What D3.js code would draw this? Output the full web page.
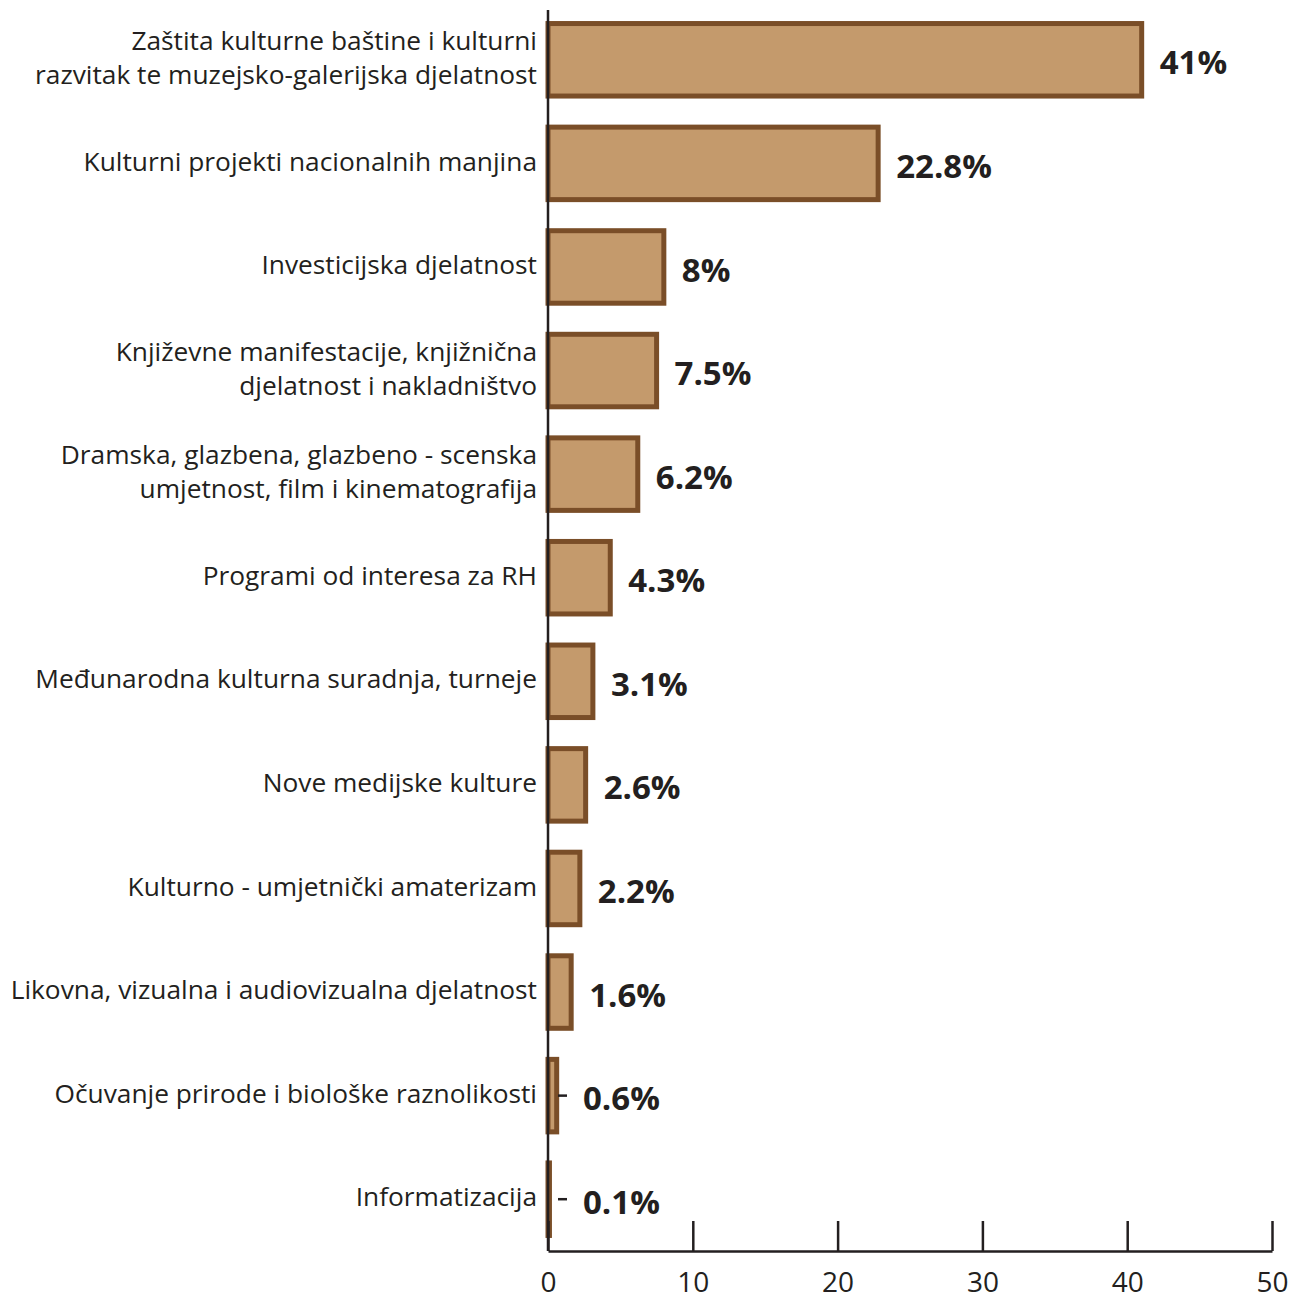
<!DOCTYPE html>
<html><head><meta charset="utf-8">
<script src="https://cdn.jsdelivr.net/npm/d3@7/dist/d3.min.js"></script>
<style>body{margin:0;background:#fff}</style>
</head><body>
<svg id="c" width="1298" height="1300"></svg>
<script>
const categories = [
  ["Zaštita kulturne baštine i kulturni", "razvitak te muzejsko-galerijska djelatnost"],
  ["Kulturni projekti nacionalnih manjina"],
  ["Investicijska djelatnost"],
  ["Književne manifestacije, knjižnična", "djelatnost i nakladništvo"],
  ["Dramska, glazbena, glazbeno - scenska", "umjetnost, film i kinematografija"],
  ["Programi od interesa za RH"],
  ["Međunarodna kulturna suradnja, turneje"],
  ["Nove medijske kulture"],
  ["Kulturno - umjetnički amaterizam"],
  ["Likovna, vizualna i audiovizualna djelatnost"],
  ["Očuvanje prirode i biološke raznolikosti"],
  ["Informatizacija"]
];
const values = [41, 22.8, 8, 7.5, 6.2, 4.3, 3.1, 2.6, 2.2, 1.6, 0.6, 0.1];
const valueLabels = ["41%", "22.8%", "8%", "7.5%", "6.2%", "4.3%", "3.1%", "2.6%", "2.2%", "1.6%", "0.6%", "0.1%"];
const xTicks = [0, 10, 20, 30, 40, 50];

const svg = d3.select("#c");
const ink = "#231f20", barStroke = "#7a4e28", barFill = "#c49a6c";
const x = d3.scaleLinear().domain([0, 50]).range([548, 1272]);
const y = d3.scaleBand().domain(d3.range(values.length)).range([8, 1251]).paddingInner(0.3).paddingOuter(0.15);
const font = "'Open Sans', sans-serif";

// bars
svg.append("g").selectAll("rect").data(values).join("rect")
  .attr("x", x(0))
  .attr("y", (d, i) => y(i))
  .attr("width", d => Math.max(0.5, x(d) - x(0)))
  .attr("height", y.bandwidth())
  .attr("fill", d => d < 0.3 ? barStroke : barFill)
  .attr("stroke", barStroke)
  .attr("stroke-width", 5);

// y axis line
svg.append("line").attr("x1", x(0)).attr("x2", x(0)).attr("y1", 10).attr("y2", 1251)
  .attr("stroke", ink).attr("stroke-width", 2.5);

// x axis
const ax = svg.append("g").attr("transform", "translate(0,1251)")
  .call(d3.axisBottom(x).tickValues(xTicks).tickSize(-30).tickSizeOuter(0).tickPadding(21));
ax.select(".domain").attr("stroke", ink).attr("stroke-width", 2.5);
ax.selectAll(".tick line").attr("stroke", ink).attr("stroke-width", 2.5);
ax.selectAll(".tick text").attr("fill", ink).attr("font-size", 28).attr("font-family", font);

// category labels
const lab = svg.append("g");
categories.forEach((lines, i) => {
  const cy = y(i) + y.bandwidth() / 2;
  const lh = 34;
  const t = lab.append("text").attr("text-anchor", "end").attr("fill", ink)
    .attr("font-size", 26.3).attr("font-family", font);
  lines.forEach((ln, k) => {
    t.append("tspan").attr("x", 537)
      .attr("y", cy - 2 + (k - (lines.length - 1) / 2) * lh).attr("dy", "0.35em").text(ln);
  });
});

// value labels
const vl = svg.append("g");
values.forEach((v, i) => {
  const cy = y(i) + y.bandwidth() / 2;
  const small = v < 1;
  const xe = small ? x(0) + 35 : x(v) + 18;
  if (small) {
    vl.append("line").attr("x1", x(0) + 10).attr("x2", x(0) + 19).attr("y1", cy).attr("y2", cy)
      .attr("stroke", ink).attr("stroke-width", 2.5);
  }
  vl.append("text").attr("x", xe).attr("y", cy + 3).attr("dy", "0.35em")
    .attr("font-family", font).attr("font-weight", "bold").attr("font-size", 33)
    .attr("fill", ink).text(valueLabels[i]);
});
</script>
</body></html>
